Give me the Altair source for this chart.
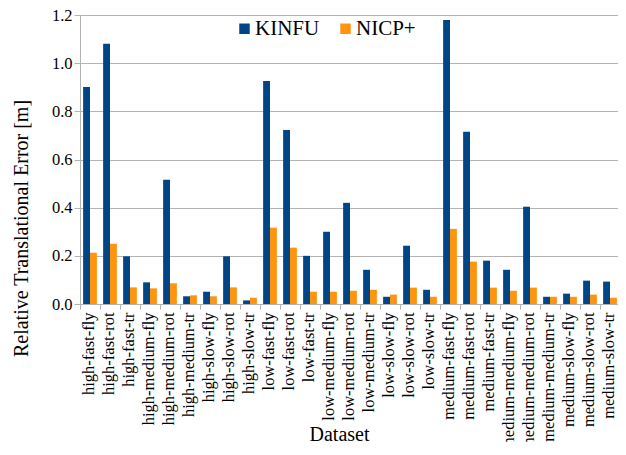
import altair as alt
import pandas as pd

categories = [
    "high-fast-fly", "high-fast-rot", "high-fast-tr",
    "high-medium-fly", "high-medium-rot", "high-medium-tr",
    "high-slow-fly", "high-slow-rot", "high-slow-tr",
    "low-fast-fly", "low-fast-rot", "low-fast-tr",
    "low-medium-fly", "low-medium-rot", "low-medium-tr",
    "low-slow-fly", "low-slow-rot", "low-slow-tr",
    "medium-fast-fly", "medium-fast-rot", "medium-fast-tr",
    "medium-medium-fly", "medium-medium-rot", "medium-medium-tr",
    "medium-slow-fly", "medium-slow-rot", "medium-slow-tr",
]
kinfu = [0.901, 1.081, 0.198, 0.090, 0.516, 0.032, 0.051, 0.198, 0.015,
         0.926, 0.723, 0.200, 0.300, 0.420, 0.142, 0.030, 0.242, 0.059,
         1.179, 0.715, 0.180, 0.142, 0.404, 0.030, 0.043, 0.097, 0.093]
nicp = [0.213, 0.250, 0.069, 0.065, 0.086, 0.036, 0.032, 0.069, 0.026,
        0.317, 0.234, 0.051, 0.051, 0.055, 0.059, 0.039, 0.068, 0.030,
        0.312, 0.176, 0.068, 0.055, 0.068, 0.030, 0.030, 0.039, 0.026]
series = ["KINFU", "NICP+"]
colors = ["#004586", "#ff950e"]
y_ticks = [0.0, 0.2, 0.4, 0.6, 0.8, 1.0, 1.2]

rows = []
for c, k, n in zip(categories, kinfu, nicp):
    rows.append({"Dataset": c, "Method": "KINFU", "Error": k})
    rows.append({"Dataset": c, "Method": "NICP+", "Error": n})
df = pd.DataFrame(rows)

FONT = "Liberation Serif"
GRID = "#b3b3b3"

chart = alt.Chart(df).mark_bar().encode(
    x=alt.X(
        "Dataset:N",
        sort=categories,
        scale=alt.Scale(range=[0, 540], paddingInner=0, paddingOuter=0),
        axis=alt.Axis(
            title="Dataset",
            labelAngle=-90,
            labelFontSize=16.5,
            labelFont=FONT,
            labelColor="#000000",
            labelPadding=3,
            labelOffset=-2,
            tickBand="extent",
            tickSize=5,
            tickColor=GRID,
            domainColor=GRID,
            grid=False,
            titleFontSize=20,
            titleFont=FONT,
            titleFontWeight="normal",
            titleColor="#000000",
            titleX=259,
            titleY=136,
            titleAlign="center",
            titleBaseline="alphabetic",
        ),
    ),
    xOffset=alt.XOffset(
        "Method:N",
        sort=series,
        scale=alt.Scale(paddingInner=0, paddingOuter=0.455),
    ),
    y=alt.Y(
        "Error:Q",
        scale=alt.Scale(domain=[0, 1.2], nice=False),
        axis=alt.Axis(
            title="Relative Translational Error [m]",
            values=y_ticks,
            format=".1f",
            labelFontSize=16.5,
            labelFont=FONT,
            labelColor="#000000",
            labelPadding=2,
            tickSize=6,
            tickColor=GRID,
            domainColor=GRID,
            gridColor=GRID,
            titleFontSize=20,
            titleFont=FONT,
            titleFontWeight="normal",
            titleColor="#000000",
            titleAngle=270,
            titleX=-53,
            titleY=213,
            titleAlign="center",
            titleBaseline="alphabetic",
        ),
    ),
    color=alt.Color(
        "Method:N",
        scale=alt.Scale(domain=series, range=colors),
        legend=alt.Legend(
            title=None,
            orient="none",
            legendX=154,
            legendY=3,
            direction="horizontal",
            symbolType="square",
            symbolSize=110,
            symbolStrokeWidth=0,
            labelFontSize=21,
            labelFont=FONT,
            labelColor="#000000",
            labelOffset=0,
            columnPadding=15,
            padding=0,
        ),
    ),
).properties(
    width=538,
    height=289,
    autosize=alt.AutoSizeParams(type="none"),
    padding={"left": 72, "top": 7, "right": 0, "bottom": 138},
).configure_view(stroke=None).configure(font=FONT)

chart.save("out.html", embed_options={"renderer": "svg", "actions": False})
